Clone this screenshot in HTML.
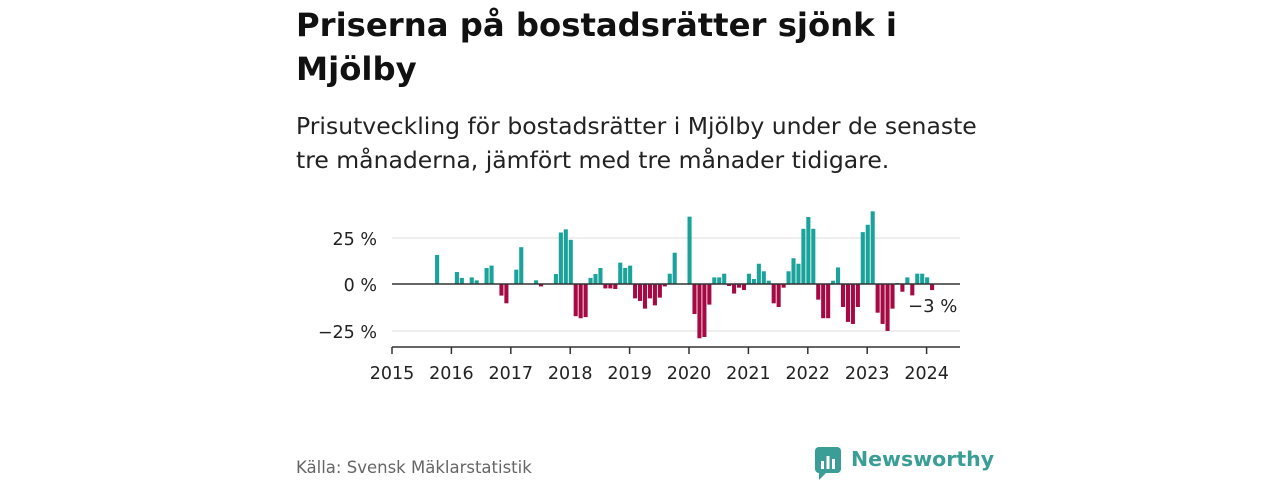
<!DOCTYPE html>
<html><head><meta charset="utf-8"><style>
body{margin:0;width:1280px;height:480px;background:#fff;font-family:"DejaVu Sans","Liberation Sans",sans-serif;overflow:hidden;position:relative}
.t{position:absolute;left:296px;top:3px;font-size:32.3px;font-weight:bold;line-height:44px;color:#111;white-space:nowrap}
.s{position:absolute;left:296px;top:109px;font-size:23.5px;line-height:34px;color:#222;white-space:nowrap}
.src{position:absolute;left:296px;top:458px;font-size:16.5px;color:#666}
.logo{position:absolute;left:851px;top:447px;font-size:20.5px;font-weight:bold;color:#3a9e96}
</style></head><body>
<div class="t">Priserna på bostadsrätter sjönk i<br>Mjölby</div>
<div class="s">Prisutveckling för bostadsrätter i Mjölby under de senaste<br>tre månaderna, jämfört med tre månader tidigare.</div>
<svg width="1280" height="480" style="position:absolute;left:0;top:0" id="c">
<g font-family="DejaVu Sans, Liberation Sans, sans-serif" font-size="17.5" fill="#222">
<line x1="392" x2="960" y1="238" y2="238" stroke="#ddd"/>
<line x1="392" x2="960" y1="331" y2="331" stroke="#ddd"/>
<text x="377" y="245" text-anchor="end">25 %</text>
<text x="377" y="291" text-anchor="end">0 %</text>
<text x="377" y="338" text-anchor="end">−25 %</text>
<g id="bars"></g>
<line x1="392" x2="960" y1="284" y2="284" stroke="#333" stroke-width="1.5"/>
<line x1="392" x2="960" y1="347" y2="347" stroke="#333" stroke-width="1.5"/>
<g id="ticks" stroke="#333" stroke-width="1.5"></g>
<text x="392" y="379" text-anchor="middle">2015</text>
<text x="451.4" y="379" text-anchor="middle">2016</text>
<text x="510.8" y="379" text-anchor="middle">2017</text>
<text x="570.2" y="379" text-anchor="middle">2018</text>
<text x="629.6" y="379" text-anchor="middle">2019</text>
<text x="689" y="379" text-anchor="middle">2020</text>
<text x="748.4" y="379" text-anchor="middle">2021</text>
<text x="807.8" y="379" text-anchor="middle">2022</text>
<text x="867.2" y="379" text-anchor="middle">2023</text>
<text x="926.6" y="379" text-anchor="middle">2024</text>
<text x="908" y="312" font-size="18">−3 %</text>
</g>
<g transform="translate(815,447)">
<rect x="0" y="0" width="26" height="26" rx="4" fill="#3a9e96"/>
<path d="M4 26 L4 33 L11 26 Z" fill="#3a9e96"/>
<rect x="6" y="14" width="3" height="8" fill="#fff"/><rect x="11.5" y="9" width="3" height="13" fill="#fff"/><rect x="17" y="12" width="3" height="10" fill="#fff"/>
</g>
</svg>
<div class="logo">Newsworthy</div>
<div class="src">Källa: Svensk Mäklarstatistik</div>
<script>
var d={9:15.8,13:6.5,14:3.3,16:3.6,17:2,19:8.7,20:10,22:-6.3,23:-10.5,25:7.8,26:20,29:2,30:-1.3,33:5.4,34:28,35:29.7,36:24,37:-17.5,38:-18.6,39:-18,40:3.3,41:5.4,42:8.7,43:-2.4,44:-2.4,45:-2.7,46:11.6,47:8.7,48:10,49:-7.8,50:-9.2,51:-13.4,52:-7.8,53:-11.6,54:-7.4,55:-1.3,56:5.6,57:17,60:36.6,61:-16.3,62:-29.5,63:-28.8,64:-11.2,65:3.6,66:3.6,67:5.6,68:-1.1,69:-5.2,70:-2,71:-3.3,72:5.6,73:2.7,74:11,75:6.9,76:1.8,77:-10.5,78:-12.5,79:-2,80:6.9,81:14,82:11,83:30,84:36.4,85:30,86:-8.5,87:-18.6,88:-18.6,89:1.8,90:9,91:-12.5,92:-20.6,93:-21.7,94:-12.5,95:28.2,96:32.2,97:39.5,98:-15.6,99:-21.7,100:-25.5,101:-13.4,102:0.5,103:-4.2,104:3.6,105:-6.2,106:5.6,107:5.6,108:3.6,109:-3.3};
var g=document.getElementById("bars"),s="";
for(var i in d){var v=d[i],h=Math.abs(v)*1.84,x=392+i*4.95-1.5;
s+='<rect x="'+x+'" y="'+(v>0?284-h:284)+'" width="4.1" height="'+h+'" fill="'+(v>0?'#1aa39b':'#a50a45')+'"/>';}
g.innerHTML=s;var t="";for(var k=0;k<10;k++){var x=392+59.4*k;t+='<line x1="'+x+'" x2="'+x+'" y1="347" y2="354"/>';}
document.getElementById("ticks").innerHTML=t;
</script>
</body></html>
